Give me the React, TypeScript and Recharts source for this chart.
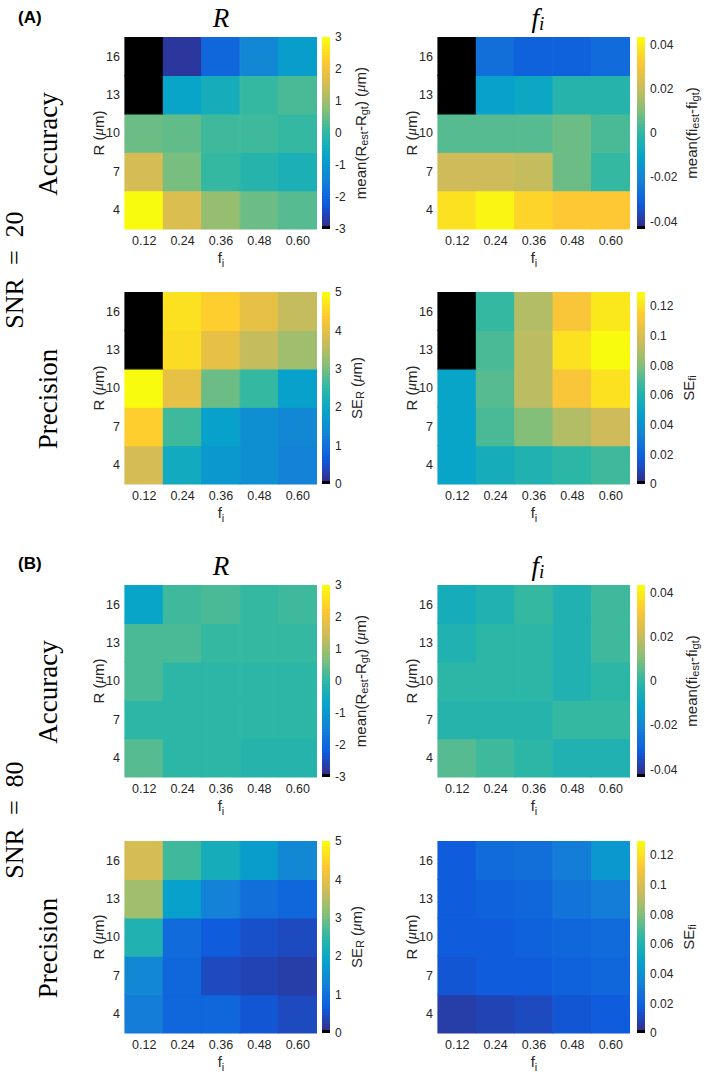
import React from "react";
import { BarChart, Bar, XAxis, YAxis, Cell } from "recharts";

const F_LABELS = ["0.12", "0.24", "0.36", "0.48", "0.60"];
const R_LABELS = ["4", "7", "10", "13", "16"]; // bottom to top

// cell values, rows listed from R = 16 (top) down to R = 4; null = no estimate (black)
const accR20 = [
  [null, -2.75, -2.0, -1.4, -0.85],
  [null, -0.75, -0.4, 0.05, 0.2],
  [0.55, 0.4, 0.15, 0.15, 0.0],
  [1.55, 0.6, 0.08, -0.1, -0.35],
  [2.95, 1.6, 0.9, 0.55, 0.3],
];
const accF20 = [
  [null, -0.026, -0.031, -0.031, -0.028],
  [null, -0.011, -0.009, -0.002, -0.002],
  [0.005, 0.005, 0.005, 0.007, 0.003],
  [0.021, 0.021, 0.02, 0.007, 0.001],
  [0.037, 0.042, 0.035, 0.032, 0.032],
];
const seR20 = [
  [null, 4.65, 4.4, 4.05, 3.65],
  [null, 4.6, 4.0, 3.65, 3.35],
  [4.95, 4.0, 2.9, 2.5, 1.85],
  [4.4, 2.6, 1.8, 1.55, 1.35],
  [3.75, 2.1, 1.7, 1.55, 1.25],
];
const seF20 = [
  [null, 0.065, 0.089, 0.111, 0.122],
  [null, 0.069, 0.093, 0.121, 0.129],
  [0.05, 0.071, 0.093, 0.111, 0.121],
  [0.05, 0.069, 0.079, 0.089, 0.096],
  [0.05, 0.056, 0.06, 0.064, 0.068],
];
const accR80 = [
  [-0.7, 0.1, 0.25, 0.0, 0.1],
  [0.2, 0.2, 0.0, 0.0, 0.0],
  [0.2, -0.02, -0.02, -0.02, -0.02],
  [-0.03, -0.03, -0.03, -0.03, -0.03],
  [0.3, -0.02, -0.02, -0.1, -0.1],
];
const accF80 = [
  [-0.006, -0.004, 0.0, -0.003, 0.002],
  [-0.003, -0.001, -0.001, -0.003, 0.002],
  [-0.001, -0.001, -0.001, -0.004, -0.001],
  [-0.002, -0.002, -0.002, 0.0, 0.0],
  [0.005, 0.002, -0.0005, -0.003, -0.003],
];
const seR80 = [
  [3.8, 2.65, 2.15, 1.75, 1.4],
  [3.35, 1.8, 1.25, 1.0, 0.85],
  [2.3, 0.9, 0.7, 0.5, 0.4],
  [1.35, 0.8, 0.45, 0.35, 0.28],
  [1.2, 0.85, 0.8, 0.55, 0.45],
];
const seF80 = [
  [0.0175, 0.023, 0.025, 0.031, 0.043],
  [0.0175, 0.019, 0.022, 0.027, 0.032],
  [0.0175, 0.018, 0.019, 0.021, 0.024],
  [0.015, 0.017, 0.017, 0.019, 0.021],
  [0.007, 0.009, 0.012, 0.015, 0.017],
];

const R_ACC_RANGE = [-3, 3];
const R_ACC_TICKS = [-3, -2, -1, 0, 1, 2, 3];
const F_ACC_RANGE = [-0.0434, 0.0434];
const F_ACC_TICKS = [-0.04, -0.02, 0, 0.02, 0.04];
const R_SE_RANGE = [0, 5];
const R_SE_TICKS = [0, 1, 2, 3, 4, 5];
const F_SE_RANGE = [0, 0.1294];
const F_SE_TICKS = [0, 0.02, 0.04, 0.06, 0.08, 0.1, 0.12];

const SANS = "'Liberation Sans', Arial, Helvetica, sans-serif";
const SERIF = "'Liberation Serif', 'Times New Roman', serif";
const INK = "#262626";

// parula, 64 levels, lowest level replaced by black
const PARULA = ["#352a87", "#0f5cdd", "#1481d6", "#06a4ca", "#2eb7a4", "#87bf77", "#d1bb59", "#fec832", "#f9fb0e"];
const NLEV = 64;
const rgb = (c: string) => [1, 3, 5].map((i) => parseInt(c.slice(i, i + 2), 16));
function parula(t: number) {
  const s = Math.min(Math.max(t, 0), 1) * (PARULA.length - 1);
  const i = Math.min(Math.floor(s), PARULA.length - 2);
  const f = s - i;
  const a = rgb(PARULA[i]);
  const b = rgb(PARULA[i + 1]);
  const m = a.map((v, k) => Math.round(v + (b[k] - v) * f));
  return `rgb(${m[0]},${m[1]},${m[2]})`;
}
const levelColor = (k: number) => (k === 0 ? "#000" : parula(k / (NLEV - 1)));
function valueColor(v: number | null, range: number[]) {
  if (v === null) return "#000";
  const k = Math.floor(((v - range[0]) / (range[1] - range[0])) * NLEV);
  return levelColor(Math.max(1, Math.min(NLEV - 1, k)));
}

const PLOT = 192;
const COL_X = [125, 438];
const ROW_Y = [37, 292, 585, 841];
const CB_X = [322, 637];
const CB_W = 8;
const CB_PAD = 9;
const YW = 45;
const XH = 40;

const KINDS: Record<string, any> = {
  rAcc: {
    range: R_ACC_RANGE, ticks: R_ACC_TICKS, dx: 30,
    label: (
      <>
        <tspan>mean(R</tspan>
        <tspan fontSize={11} dy={4}>est</tspan>
        <tspan dy={-4}>-R</tspan>
        <tspan fontSize={11} dy={4}>gt</tspan>
        <tspan dy={-4}>) (</tspan>
        <tspan fontFamily={SERIF} fontStyle="italic">μ</tspan>
        <tspan>m)</tspan>
      </>
    ),
  },
  fAcc: {
    range: F_ACC_RANGE, ticks: F_ACC_TICKS, dx: 46,
    label: (
      <>
        <tspan>mean(fi</tspan>
        <tspan fontSize={11} dy={4}>est</tspan>
        <tspan dy={-4}>-fi</tspan>
        <tspan fontSize={11} dy={4}>gt</tspan>
        <tspan dy={-4}>)</tspan>
      </>
    ),
  },
  rSe: {
    range: R_SE_RANGE, ticks: R_SE_TICKS, dx: 26,
    label: (
      <>
        <tspan>SE</tspan>
        <tspan fontSize={11} dy={4}>R</tspan>
        <tspan dy={-4}> (</tspan>
        <tspan fontFamily={SERIF} fontStyle="italic">μ</tspan>
        <tspan>m)</tspan>
      </>
    ),
  },
  fSe: {
    range: F_SE_RANGE, ticks: F_SE_TICKS, dx: 43,
    label: (
      <>
        <tspan>SE</tspan>
        <tspan fontSize={11} dy={4}>fi</tspan>
      </>
    ),
  },
};

const PANELS = [
  { row: 0, col: 0, values: accR20, kind: "rAcc" },
  { row: 0, col: 1, values: accF20, kind: "fAcc" },
  { row: 1, col: 0, values: seR20, kind: "rSe" },
  { row: 1, col: 1, values: seF20, kind: "fSe" },
  { row: 2, col: 0, values: accR80, kind: "rAcc" },
  { row: 2, col: 1, values: accF80, kind: "fAcc" },
  { row: 3, col: 0, values: seR80, kind: "rSe" },
  { row: 3, col: 1, values: seF80, kind: "fSe" },
];

const tickStyle = { fontSize: 12.5, fill: INK, fontFamily: SANS };

function Heatmap({ x, y, values, range }: any) {
  const data = F_LABELS.map((f) => {
    const d: any = { f };
    R_LABELS.forEach((_, ri) => (d["r" + ri] = 1));
    return d;
  });
  const yTitle = (p: any) => {
    const vb = p.viewBox;
    const cx = vb.x + vb.width - 27;
    const cy = vb.y + vb.height / 2;
    return (
      <text x={cx} y={cy} transform={`rotate(-90 ${cx} ${cy})`} textAnchor="middle"
        dominantBaseline="central" fontSize={15} fill={INK} fontFamily={SANS}>
        R (<tspan fontFamily={SERIF} fontStyle="italic">μ</tspan>m)
      </text>
    );
  };
  const xTitle = (p: any) => {
    const vb = p.viewBox;
    return (
      <text x={vb.x + vb.width / 2} y={vb.y + 34} textAnchor="middle" fontSize={15} fill={INK} fontFamily={SANS}>
        f<tspan fontSize={11} dy={4}>i</tspan>
      </text>
    );
  };
  return (
    <div style={{ position: "absolute", left: x - YW, top: y }}>
      <BarChart width={YW + PLOT} height={PLOT + XH} data={data}
        margin={{ top: 0, right: 0, bottom: 0, left: 0 }} barCategoryGap={0} barGap={0}>
        <XAxis dataKey="f" height={XH} tickLine={false} axisLine={false} tickSize={0} tickMargin={7}
          tick={tickStyle} interval={0} label={xTitle} />
        <YAxis type="number" width={YW} domain={[0, R_LABELS.length]}
          ticks={R_LABELS.map((_, i) => i + 0.5)} tickFormatter={(v: number) => R_LABELS[Math.floor(v)]}
          tickLine={false} axisLine={false} tickSize={0} tickMargin={5} tick={tickStyle} interval={0}
          label={yTitle} />
        {R_LABELS.map((_, ri) => (
          <Bar key={ri} dataKey={"r" + ri} stackId="cells" isAnimationActive={false}>
            {F_LABELS.map((__, ci) => {
              const c = valueColor(values[R_LABELS.length - 1 - ri][ci], range);
              return <Cell key={ci} fill={c} stroke={c} strokeWidth={1.2} />;
            })}
          </Bar>
        ))}
      </BarChart>
    </div>
  );
}

function Colorbar({ x, y, kind }: any) {
  const k = KINDS[kind];
  const [lo, hi] = k.range;
  const seg: any = { name: "cb" };
  for (let i = 0; i < NLEV; i++) seg["s" + i] = 1;
  const pos = k.ticks.map((t: number) => ((t - lo) / (hi - lo)) * NLEV);
  const fmt = (v: number) => {
    const i = pos.reduce((b: number, p: number, j: number) => (Math.abs(p - v) < Math.abs(pos[b] - v) ? j : b), 0);
    return String(k.ticks[i]);
  };
  const cbTitle = (p: any) => {
    const vb = p.viewBox;
    const cx = vb.x + k.dx;
    const cy = vb.y + vb.height / 2;
    return (
      <text x={cx} y={cy} transform={`rotate(-90 ${cx} ${cy})`} textAnchor="middle"
        dominantBaseline="central" fontSize={15} fill={INK} fontFamily={SANS}>
        {k.label}
      </text>
    );
  };
  return (
    <div style={{ position: "absolute", left: x, top: y - CB_PAD }}>
      <BarChart width={CB_W + 70} height={PLOT + 2 * CB_PAD} data={[seg]}
        margin={{ top: CB_PAD, right: 0, bottom: CB_PAD, left: 0 }} barCategoryGap={0}>
        <XAxis dataKey="name" hide />
        <YAxis orientation="right" type="number" width={70} domain={[0, NLEV]} ticks={pos}
          tickFormatter={fmt} tickLine={false} axisLine={false} tickSize={0} tickMargin={5}
          tick={{ fontSize: 12, fill: INK, fontFamily: SANS }} interval={0} label={cbTitle} />
        {Array.from({ length: NLEV }, (_, i) => (
          <Bar key={i} dataKey={"s" + i} stackId="cb" fill={levelColor(i)} isAnimationActive={false} />
        ))}
      </BarChart>
    </div>
  );
}

const rowText = (label: string, cx: number, cy: number, size = 27) => (
  <text x={cx} y={cy} transform={`rotate(-90 ${cx} ${cy})`} textAnchor="middle"
    dominantBaseline="central" fontSize={size} fontFamily={SERIF} fill="#000">
    {label}
  </text>
);

export default function App() {
  return (
    <div style={{ position: "absolute", left: 0, top: 0, width: 709, height: 1075, background: "#fff" }}>
      <svg width={709} height={1075} style={{ position: "absolute", left: 0, top: 0 }}>
        <text x={18} y={23} fontSize={17} fontWeight="bold" fontFamily={SANS} fill="#000">(A)</text>
        <text x={18} y={569} fontSize={17} fontWeight="bold" fontFamily={SANS} fill="#000">(B)</text>
        {[0, 2].map((r) => (
          <g key={r}>
            <text x={COL_X[0] + PLOT / 2} y={ROW_Y[r] - 10} textAnchor="middle" fontSize={27}
              fontStyle="italic" fontFamily={SERIF} fill="#000">R</text>
            <text x={COL_X[1] + PLOT / 2 + 4} y={ROW_Y[r] - 10} textAnchor="middle" fontSize={27}
              fontStyle="italic" fontFamily={SERIF} fill="#000">
              f<tspan fontSize={19} dy={3}>i</tspan>
            </text>
          </g>
        ))}
        {rowText("Accuracy", 48, ROW_Y[0] + PLOT / 2 + 11)}
        {rowText("Precision", 48, ROW_Y[1] + PLOT / 2 + 11)}
        {rowText("Accuracy", 48, ROW_Y[2] + PLOT / 2 + 11)}
        {rowText("Precision", 48, ROW_Y[3] + PLOT / 2 + 11)}
        {rowText("SNR\u2002=\u200220", 14, 270, 26)}
        {rowText("SNR\u2002=\u200280", 14, 820, 26)}
      </svg>
      {PANELS.map((p, i) => (
        <React.Fragment key={i}>
          <Heatmap x={COL_X[p.col]} y={ROW_Y[p.row]} values={p.values} range={KINDS[p.kind].range} />
          <Colorbar x={CB_X[p.col]} y={ROW_Y[p.row]} kind={p.kind} />
        </React.Fragment>
      ))}
    </div>
  );
}
